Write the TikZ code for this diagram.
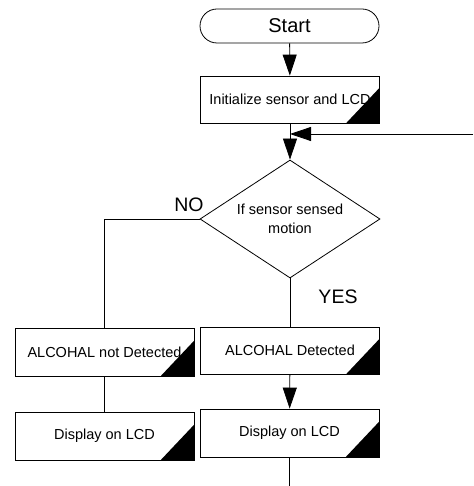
\documentclass[tikz,border=0pt]{standalone}
\usepackage{fontspec}
\setmainfont{Liberation Sans}
\usetikzlibrary{arrows.meta,shapes.geometric}
\begin{document}
\begin{tikzpicture}[x=1pt,y=-1pt,
  line width=0.8pt,
  flow/.style={-{Triangle[length=21pt,width=14pt]}},
  procbox/.style={draw,rectangle,minimum width=179pt,minimum height=48pt,inner sep=0pt,
    font=\fontsize{14.5}{17}\selectfont},
  termbox/.style={draw,rectangle,rounded corners=17pt,minimum width=179pt,minimum height=34pt,
    inner sep=0pt,font=\fontsize{20}{24}\selectfont},
  decbox/.style={draw,diamond,aspect=1.525,minimum width=180pt,minimum height=118pt,inner sep=0pt,
    align=center,font=\fontsize{14.5}{19}\selectfont},
  lbl/.style={font=\fontsize{19.5}{23}\selectfont,inner sep=0pt}]
\useasboundingbox (0,0) rectangle (473,486);

\node[termbox] (start) at (289.5,26) {Start};
\node[procbox,minimum height=47pt] (init) at (290,99.5) {Initialize sensor and LCD};
\node[decbox] (dec) at (290,219) {If sensor sensed\\motion};
\node[procbox] (notdet) at (104.5,352) {ALCOHAL not Detected};
\node[procbox] (disp1) at (104.5,436) {Display on LCD};
\node[procbox,minimum height=47pt] (det) at (290,350.5) {ALCOHAL Detected};
\node[procbox] (disp2) at (289.5,433) {Display on LCD};

\foreach \n in {init,notdet,disp1,det,disp2}
  \fill (\n.south east) -- ++(-34pt,0pt) -- ++(34pt,36pt) -- cycle;

\node[lbl] (no) at (189,205) {NO};
\node[lbl] (yes) at (338,297) {YES};

\coordinate (ret) at (473,134);
\coordinate (endpt) at (289.5,486);

\draw[flow] (start) -- (init);
\draw[flow] (init) -- (dec.north);
\draw[flow] (ret) -- (ret -| dec.north);
\draw (dec.west) -- (notdet.north |- dec.west) -- (notdet.north);
\draw (notdet) -- (disp1);
\draw (dec.south) -- (det.north);
\draw[flow] (det) -- (disp2);
\draw (disp2.south) -- (endpt);
\end{tikzpicture}
\end{document}
